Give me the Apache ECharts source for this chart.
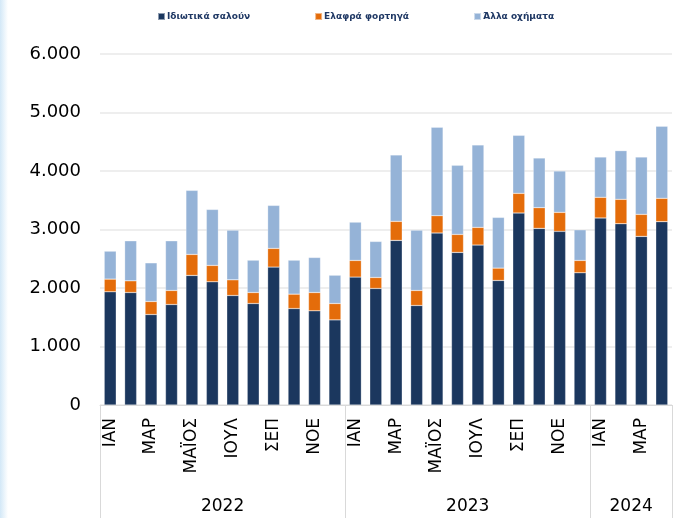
<!DOCTYPE html>
<html>
<head>
<meta charset="utf-8">
<script src="https://cdn.jsdelivr.net/npm/echarts@6/dist/echarts.min.js"></script>
<style>html,body{margin:0;padding:0;background:#fff}#c{width:680px;height:518px}</style>
</head>
<body>
<div id="c"></div>
<script>
const seriesNames = ['Ιδιωτικά σαλούν', 'Ελαφρά φορτηγά', 'Άλλα οχήματα'];
const monthNames = ['ΙΑΝ','ΦΕΒ','ΜΑΡ','ΑΠΡ','ΜΑΪΟΣ','ΙΟΥΝ','ΙΟΥΛ','ΑΥΓ','ΣΕΠ','ΟΚΤ','ΝΟΕ','ΔΕΚ'];
const years = ['2022', '2023', '2024'];
const monthsPerYear = [12, 12, 4];
const yTicks = [0, 1000, 2000, 3000, 4000, 5000, 6000];

const privateCars = [1935,1923,1547,1718,2215,2106,1872,1735,2357,1649,1610,1455,
                     2186,1992,2814,1701,2940,2608,2734,2129,3282,3019,2968,2260,
                     3197,3099,2882,3134];
const lightTrucks = [217,200,222,240,359,280,268,188,320,246,313,280,
                     285,188,325,257,296,308,302,211,336,354,325,211,
                     353,417,377,399];
const otherVehicles = [478,684,661,849,1095,957,849,553,735,581,599,484,
                       655,616,1135,1031,1512,1181,1409,867,992,849,707,524,
                       689,832,980,1232];

const categories = [];
monthsPerYear.forEach((n, yi) => { for (let m = 0; m < n; m++) categories.push(monthNames[m] + ' ' + years[yi]); });
const total = categories.length;
const boundaries = [0];
monthsPerYear.forEach(n => boundaries.push(boundaries[boundaries.length - 1] + n));
const yearCenters = monthsPerYear.map((n, i) => boundaries[i] + n / 2);

const colors = ['#1b375e', '#e46c0a', '#95b3d7'];
const fontFam = '"DejaVu Sans", Verdana, sans-serif';

const chart = echarts.init(document.getElementById('c'), null, {renderer: 'canvas'});
const mkSeries = (name, data, i) => ({
  name, type: 'bar', stack: 'all', data, barWidth: 12, xAxisIndex: 0,
  itemStyle: {color: colors[i], borderColor: 'rgba(255,255,255,0.5)', borderWidth: 0.5},
  emphasis: {disabled: true}
});
chart.setOption({
  animation: false,
  backgroundColor: '#fff',
  graphic: [{
    type: 'rect', left: 0, top: 0, shape: {x: 0, y: 0, width: 8, height: 518},
    style: {fill: new echarts.graphic.LinearGradient(0, 0, 1, 0, [{offset: 0, color: '#d3e8f7'}, {offset: 1, color: '#ffffff'}])},
    silent: true, z: -1
  }],
  legend: {
    top: 7, left: 152, itemGap: 64, itemWidth: 7, itemHeight: 7, icon: 'rect',
    data: seriesNames,
    textStyle: {fontFamily: fontFam, fontWeight: 'bold', fontSize: 9, color: '#1f3864', padding: [0, 0, 0, -3]}
  },
  grid: {left: 100, right: 8, top: 54, bottom: 113, containLabel: false},
  xAxis: [{
    type: 'category', data: categories, position: 'bottom',
    axisLine: {lineStyle: {color: '#d9d9d9', width: 1}},
    axisTick: {show: false},
    axisLabel: {
      interval: 1, rotate: 90, margin: 13, fontFamily: fontFam, fontSize: 17, color: '#000',
      formatter: v => v.split(' ')[0]
    },
    splitLine: {show: false}
  }, {
    type: 'value', min: 0, max: total, position: 'bottom', gridIndex: 0,
    axisLine: {show: false},
    axisTick: {show: true, customValues: boundaries, length: 113, inside: false, lineStyle: {color: '#d9d9d9', width: 1}},
    axisLabel: {
      customValues: yearCenters, margin: 93, fontFamily: fontFam, fontSize: 17, color: '#000',
      formatter: v => { const i = yearCenters.indexOf(v); return i >= 0 ? years[i] : ''; }
    },
    splitLine: {show: false}
  }],
  yAxis: {
    type: 'value', min: yTicks[0], max: yTicks[yTicks.length - 1], interval: 1000,
    axisLine: {show: false}, axisTick: {show: false},
    axisLabel: {
      margin: 19, fontFamily: fontFam, fontSize: 18, color: '#000',
      formatter: v => v.toString().replace(/\B(?=(\d{3})+(?!\d))/g, '.')
    },
    splitLine: {lineStyle: {color: '#e8e8e8', width: 1.5}}
  },
  series: [
    mkSeries(seriesNames[0], privateCars, 0),
    mkSeries(seriesNames[1], lightTrucks, 1),
    mkSeries(seriesNames[2], otherVehicles, 2)
  ]
});
</script>
</body>
</html>
